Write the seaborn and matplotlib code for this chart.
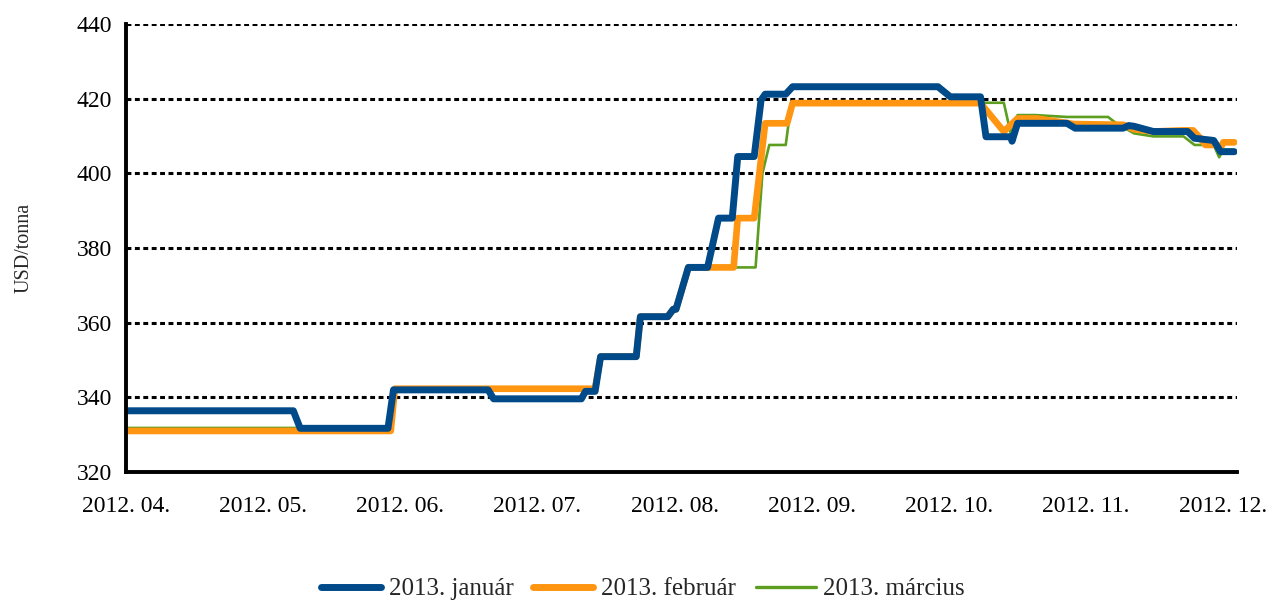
import numpy as np
import pandas as pd
import matplotlib
matplotlib.use("Agg")
import matplotlib.pyplot as plt
from matplotlib.lines import Line2D
import seaborn as sns

# ---- data (x = position in months from 2012.04., y = USD/tonna) ----
month_labels = ["2012. 04.", "2012. 05.", "2012. 06.", "2012. 07.", "2012. 08.",
                "2012. 09.", "2012. 10.", "2012. 11.", "2012. 12."]

jan_x = [0.00, 1.22, 1.27, 1.91, 1.95, 2.64, 2.68, 3.32, 3.35, 3.42, 3.46, 3.72, 3.75,
         3.95, 3.99, 4.01, 4.10, 4.24, 4.32, 4.42, 4.46, 4.58, 4.63, 4.66, 4.81, 4.86,
         5.92, 6.01, 6.23, 6.27, 6.45, 6.46, 6.50, 6.86, 6.92, 7.27, 7.31, 7.35, 7.49,
         7.74, 7.79, 7.93, 7.98, 8.08]
jan_y = [336.4, 336.4, 331.7, 331.7, 342.0, 342.0, 339.6, 339.6, 341.6, 341.6, 350.9, 350.9, 361.6,
         361.6, 363.6, 363.6, 374.8, 374.8, 388.0, 388.0, 404.5, 404.5, 419.6, 421.2, 421.2, 423.2,
         423.2, 420.5, 420.5, 409.8, 409.8, 408.6, 413.4, 413.4, 412.1, 412.1, 412.8, 412.6, 411.2,
         411.2, 409.4, 408.8, 405.8, 405.8]

feb_x = [0.00, 1.93, 1.96, 3.36, 3.42, 3.46, 3.72, 3.75, 3.95, 3.99, 4.01, 4.10, 4.43,
         4.46, 4.58, 4.66, 4.82, 4.86, 6.23, 6.40, 6.50, 6.64, 6.91, 7.27, 7.35, 7.49,
         7.70, 7.78, 7.83, 7.87, 7.95, 7.98, 8.00, 8.08]
feb_y = [331.0, 331.0, 342.3, 342.3, 342.3, 350.9, 350.9, 361.6, 361.6, 363.6, 363.6, 374.8, 374.8,
         388.0, 388.0, 413.4, 413.4, 418.8, 418.8, 411.2, 414.7, 414.7, 413.2, 413.0, 411.8, 411.2,
         411.5, 411.5, 409.5, 407.6, 407.6, 406.8, 408.3, 408.3]

mar_x = [0.00, 1.93, 1.96, 3.36, 3.42, 3.46, 3.72, 3.75, 3.95, 3.99, 4.01, 4.10, 4.59,
         4.64, 4.69, 4.81, 4.85, 6.23, 6.26, 6.40, 6.45, 6.50, 6.63, 6.86, 7.16, 7.22,
         7.35, 7.49, 7.71, 7.79, 7.93, 7.97, 8.00, 8.08]
mar_y = [331.8, 331.8, 342.3, 342.3, 342.3, 350.9, 350.9, 361.6, 361.6, 363.6, 363.6, 374.8, 374.8,
         400.0, 407.6, 407.6, 418.8, 418.8, 418.9, 418.9, 410.7, 415.6, 415.6, 415.1, 415.1, 413.4,
         410.7, 409.9, 409.9, 407.6, 407.6, 404.3, 406.3, 406.3]

series_names = ["2013. január", "2013. február", "2013. március"]
colors = {"2013. január": "#004A8A", "2013. február": "#FF9510", "2013. március": "#5C9E1F"}
widths = {"2013. január": 5.0, "2013. február": 4.8, "2013. március": 1.9}

df = pd.concat([
    pd.DataFrame({"m": jan_x, "v": jan_y, "series": series_names[0]}),
    pd.DataFrame({"m": feb_x, "v": feb_y, "series": series_names[1]}),
    pd.DataFrame({"m": mar_x, "v": mar_y, "series": series_names[2]}),
], ignore_index=True)

sns.set_theme(style="white")
plt.rcParams["font.family"] = ["Liberation Serif", "DejaVu Serif"]
plt.rcParams["axes.unicode_minus"] = False

fig = plt.figure(figsize=(12.68, 6.03), dpi=100)
ax = fig.add_axes([126 / 1268, 1 - 472 / 603, (1237 - 126) / 1268, (472 - 24) / 603])

# draw bottom-most first so that january ends up on top
for name in reversed(series_names):
    sub = df[df["series"] == name]
    sns.lineplot(data=sub, x="m", y="v", ax=ax, color=colors[name], linewidth=widths[name],
                 estimator=None, sort=False, legend=False,
                 solid_joinstyle="round", solid_capstyle="round")

ax.set_xlim(0, 8.1)
ax.set_ylim(320, 440)
ax.set_xticks(range(len(month_labels)))
ax.set_xticklabels(month_labels)
ax.set_yticks(np.arange(320, 441, 20))
ax.set_xlabel("")
ax.set_ylabel("USD/tonna", fontsize=14.5)
ax.yaxis.set_label_coords(-0.083, 0.5)

ax.yaxis.grid(True, color="black", linestyle=(0, (1.6, 1.15)), linewidth=2.2)
ax.xaxis.grid(False)
ax.set_axisbelow(True)

sns.despine(ax=ax)
for s in ["left", "bottom"]:
    ax.spines[s].set_color("black")
    ax.spines[s].set_linewidth(2.8)
ax.tick_params(axis="both", which="major", direction="out", length=7, width=2.0,
               color="black", labelsize=17, labelcolor="black")
ax.tick_params(axis="x", pad=10)
ax.tick_params(axis="y", pad=3)

handles = [Line2D([], [], color=colors[n], linewidth=(5.0 if n != series_names[2] else 2.4))
           for n in series_names]
fig.legend(handles, series_names, loc="center", bbox_to_anchor=(0.507, 0.023), ncol=3,
           frameon=False, fontsize=18, handlelength=2.4, handletextpad=0.3,
           columnspacing=0.8, borderaxespad=0)

fig.savefig("out.png", dpi=100)
